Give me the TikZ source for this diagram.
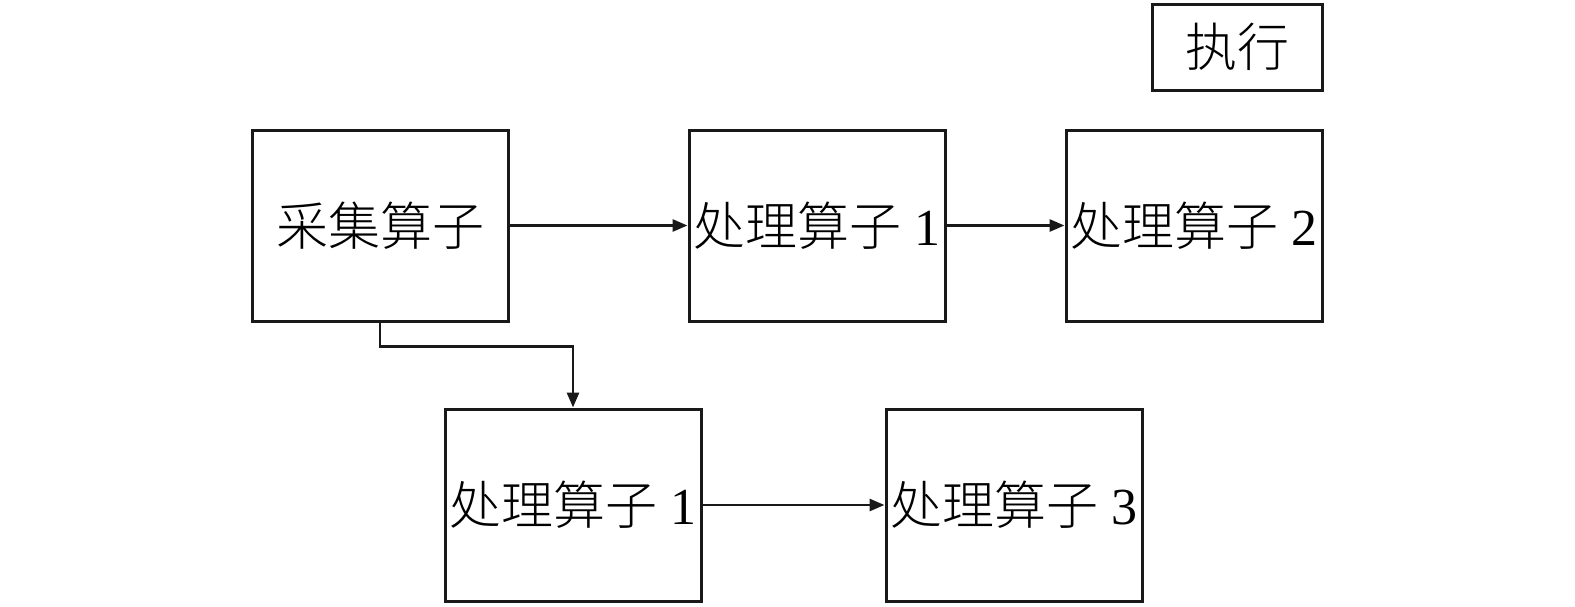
\documentclass[tikz,border=0pt]{standalone}
\usepackage{fontspec}
\setmainfont{Liberation Serif}
\newfontfamily\cjk{Noto Sans CJK SC}[UprightFont=* Light]
\usetikzlibrary{arrows.meta}
\newcommand\zh[1]{{\cjk #1}}
\begin{document}
\begin{tikzpicture}[x=0.5pt,y=-0.5pt,
  box/.style={draw=black!90,line width=1.5pt,minimum width=128pt,minimum height=95.5pt,inner sep=0pt,align=center,font=\fontsize{26pt}{29pt}\selectfont},
  arr/.style={draw=black!90,line width=1.4pt,-{Triangle[length=7.5pt,width=6pt]}}]
\useasboundingbox (0,0) rectangle (1575,606);
\node[box,minimum width=85pt,minimum height=43pt] (exec) at (1237,47) {\zh{执行}};
\node[box] (caiji) at (380,225.5) {\zh{采集算子}};
\node[box] (p1) at (817,225.5) {\zh{处理算子} 1};
\node[box] (p2) at (1194,225.5) {\zh{处理算子} 2};
\node[box,minimum height=96pt] (p1b) at (573,505) {\zh{处理算子} 1};
\node[box,minimum height=96pt] (p3) at (1014,505) {\zh{处理算子} 3};
\draw[arr] (caiji) -- (p1);
\draw[arr] (p1) -- (p2);
\draw[arr] (p1b) -- (p3);
\draw[arr] (caiji.south) -- ++(0,24) -| (p1b.north);
\end{tikzpicture}
\end{document}
